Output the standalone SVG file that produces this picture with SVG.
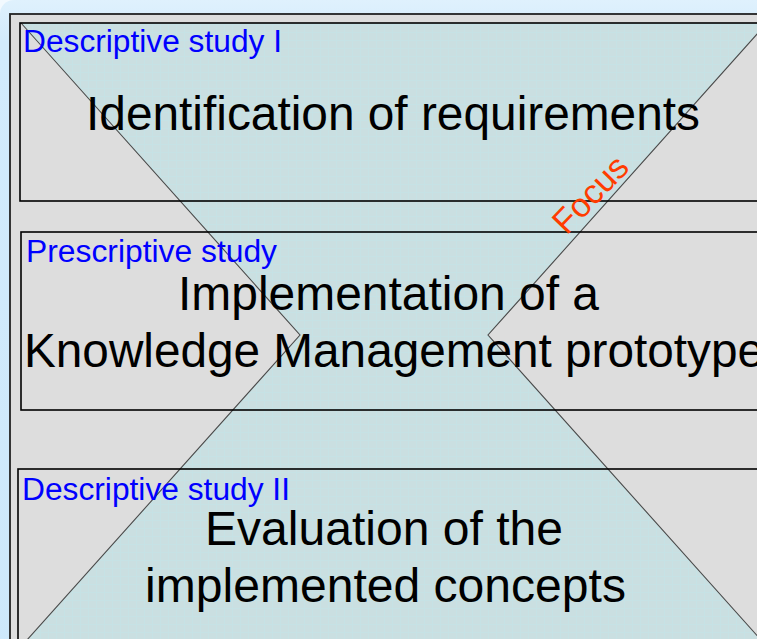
<svg xmlns="http://www.w3.org/2000/svg" width="757" height="639" viewBox="0 0 757 639">
  <defs>
    <linearGradient id="bg" x1="0" y1="0" x2="0" y2="1">
      <stop offset="0" stop-color="#dff1fd"/>
      <stop offset="0.06" stop-color="#d2ebfc"/>
      <stop offset="1" stop-color="#cde8fb"/>
    </linearGradient>
    <pattern id="grid" width="8" height="8" patternUnits="userSpaceOnUse">
      <rect width="8" height="8" fill="#cadfe1"/>
      <path d="M0 0.5H8M0.5 0V8" stroke="#c6e2e5" stroke-width="1"/>
    </pattern>
    <style>
      .box { fill: none; stroke: #000; stroke-width: 1.6; }
      .edge { fill: none; stroke: #4a4a4a; stroke-width: 1.1; }
      .label { font-family: "Liberation Sans", Arial, sans-serif; font-size: 31px; fill: #0000ff; }
      .main { font-family: "Liberation Sans", Arial, sans-serif; font-size: 47.5px; fill: #000; }
      .focus { font-family: "Liberation Sans", Arial, sans-serif; font-size: 34px; fill: #ff3c00; }
    </style>
  </defs>

  <rect x="0" y="0" width="757" height="639" fill="#f2f9fe"/>
  <rect x="0" y="0" width="800" height="700" rx="14" fill="url(#bg)"/>

  <g id="frame">
    <rect x="10" y="14" width="780" height="660" fill="#dddddd" stroke="#222" stroke-width="1.8"/>
  </g>

  <g id="hourglass">
    <polygon points="21,23 767,23 488,335 770,650 18,650 300,335" fill="url(#grid)"/>
    <polyline class="edge" points="21,23 300,335 18,650"/>
    <polyline class="edge" points="767,23 488,335 770,650"/>
  </g>

  <g id="box1">
    <rect class="box" x="20" y="23" width="760" height="178"/>
    <text class="label" x="23" y="52" textLength="259" lengthAdjust="spacingAndGlyphs">Descriptive study I</text>
    <text class="main" x="86" y="130" textLength="614" lengthAdjust="spacingAndGlyphs">Identification of requirements</text>
  </g>

  <g id="box2">
    <rect class="box" x="21" y="232" width="760" height="178"/>
    <text class="label" x="26" y="262" textLength="251" lengthAdjust="spacingAndGlyphs">Prescriptive study</text>
    <text class="main" x="178" y="310" textLength="421" lengthAdjust="spacingAndGlyphs">Implementation of a</text>
    <text class="main" x="24" y="367" textLength="740" lengthAdjust="spacingAndGlyphs">Knowledge Management prototype</text>
  </g>

  <g id="box3">
    <rect class="box" x="18" y="469" width="760" height="200"/>
    <text class="label" x="22" y="500" textLength="268" lengthAdjust="spacingAndGlyphs">Descriptive study II</text>
    <text class="main" x="205" y="545" textLength="358" lengthAdjust="spacingAndGlyphs">Evaluation of the</text>
    <text class="main" x="145" y="602" textLength="481" lengthAdjust="spacingAndGlyphs">implemented concepts</text>
  </g>

  <g id="focus-label">
    <text class="focus" transform="translate(590,194) rotate(-46)" x="0" y="12" text-anchor="middle">Focus</text>
  </g>

  <g id="connectors"/>
</svg>
